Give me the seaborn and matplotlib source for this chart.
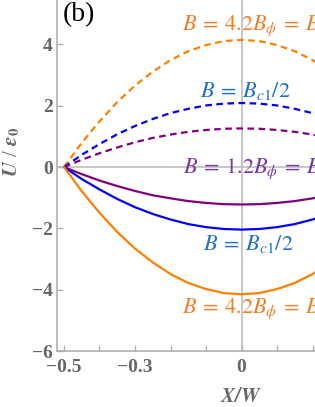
import numpy as np
import pandas as pd
import matplotlib
matplotlib.use('Agg')
import matplotlib.pyplot as plt
import seaborn as sns

sns.set_style('white')
plt.rcParams['font.family'] = ['Liberation Serif', 'DejaVu Serif']
plt.rcParams['mathtext.fontset'] = 'stix'

# Data (curves symmetric around X/W = 0)
x_pos = [-0.5, -0.45, -0.4, -0.35, -0.3, -0.25, -0.2, -0.15, -0.1, -0.05,
         0.0, 0.05, 0.1, 0.15, 0.2, 0.25]
orange_dashed = [0, 0.79, 1.49, 2.12, 2.66, 3.11, 3.49, 3.78, 3.98, 4.11,
                 4.15, 4.11, 3.98, 3.78, 3.49, 3.11]
blue_dashed = [0, 0.40, 0.75, 1.07, 1.34, 1.57, 1.76, 1.90, 2.01, 2.07,
               2.09, 2.07, 2.01, 1.90, 1.76, 1.57]
purple_dashed = [0, 0.24, 0.45, 0.64, 0.81, 0.95, 1.06, 1.15, 1.21, 1.25,
                 1.26, 1.25, 1.21, 1.15, 1.06, 0.95]
purple_solid = [0, -0.23, -0.44, -0.62, -0.78, -0.92, -1.02, -1.11, -1.17, -1.21,
                -1.22, -1.21, -1.17, -1.11, -1.02, -0.92]
blue_solid = [0, -0.39, -0.73, -1.04, -1.31, -1.53, -1.71, -1.86, -1.96, -2.02,
              -2.04, -2.02, -1.96, -1.86, -1.71, -1.53]
orange_solid = [0, -0.79, -1.49, -2.12, -2.66, -3.11, -3.49, -3.78, -3.98, -4.11,
                -4.15, -4.11, -3.98, -3.78, -3.49, -3.11]

series = [
    ('orange_dashed', orange_dashed, '#FF8000', (3, 2)),
    ('blue_dashed', blue_dashed, '#0000FF', (3, 2)),
    ('purple_dashed', purple_dashed, '#800080', (3, 2)),
    ('purple_solid', purple_solid, '#800080', None),
    ('blue_solid', blue_solid, '#0000FF', None),
    ('orange_solid', orange_solid, '#FF8000', None),
]

labels = [
    (-0.168, 4.47, r'$B\:=\:4.2B_\phi\:=\:B$', '#F07F2A'),
    (-0.117, 2.28, r'$B\:=\:B_{c1}/2$', '#2070C8'),
    (-0.165, -0.20, r'$B\:=\:1.2B_\phi\:=\:B$', '#7B35A8'),
    (-0.108, -2.70, r'$B\:=\:B_{c1}/2$', '#2070C8'),
    (-0.168, -4.76, r'$B\:=\:4.2B_\phi\:=\:B$', '#F07F2A'),
]

fig = plt.figure(figsize=(3.15, 4.07), dpi=100)
ax = fig.add_axes([57 / 315, 56 / 407, 1 - 57 / 315, 1 - 56 / 407])

ax.axhline(0, color='#b8b8b8', lw=1.1, zorder=1)
ax.axvline(0, color='#b8b8b8', lw=1.1, zorder=1)

for name, vals, col, dash in series:
    df = pd.DataFrame({'x': x_pos, 'y': vals})
    line = sns.lineplot(data=df, x='x', y='y', ax=ax, color=col, lw=1.6,
                        sort=False, zorder=3).lines[-1]
    if dash is not None:
        line.set_dashes(dash)

for tx, ty, txt, col in labels:
    ax.text(tx, ty, txt, color=col, fontsize=16, ha='left', va='baseline',
            clip_on=False, zorder=4)

ax.set_xlim(-0.5197, 0.207)
ax.set_ylim(-6, 5.45)
ax.set_xticks([-0.5, -0.3, 0])
ax.set_xticklabels(['\u22120.5', '\u22120.3', '0'])
ax.set_xticks([-0.4, -0.2, -0.1, 0.1, 0.2], minor=True)
ax.set_yticks([-6, -4, -2, 0, 2, 4])
ax.set_yticklabels(['\u22126', '\u22124', '\u22122', '0', '2', '4'])

for s in ['top', 'right']:
    ax.spines[s].set_visible(False)
for s in ['left', 'bottom']:
    ax.spines[s].set_color('#b0b0b0')
    ax.spines[s].set_linewidth(1.2)

ax.tick_params(which='both', direction='in', length=4.5, width=1,
               color='#b0b0b0', labelcolor='#666666', labelsize=14, pad=3)
ax.tick_params(axis='x', which='both', bottom=True, pad=6)
ax.tick_params(axis='y', which='both', left=True)
for lab in ax.get_xticklabels() + ax.get_yticklabels():
    lab.set_fontweight('bold')

ax.set_xlabel('')
ax.set_ylabel('')
fig.text(241 / 315, 1 - 397 / 407, r'$\mathbfit{X/W}$', color='#666666',
         fontsize=15, ha='center', va='center')
fig.text(12 / 315, 1 - 152 / 407, r'$\mathbfit{U}$ / $\mathbfit{\epsilon}_\mathbf{0}$',
         color='#666666', fontsize=15, ha='center', va='center', rotation=90)
fig.text(63 / 315, 1 - 21 / 407, '(b)', color='black', fontsize=20,
         ha='left', va='baseline')

fig.savefig('out.png', dpi=100)
